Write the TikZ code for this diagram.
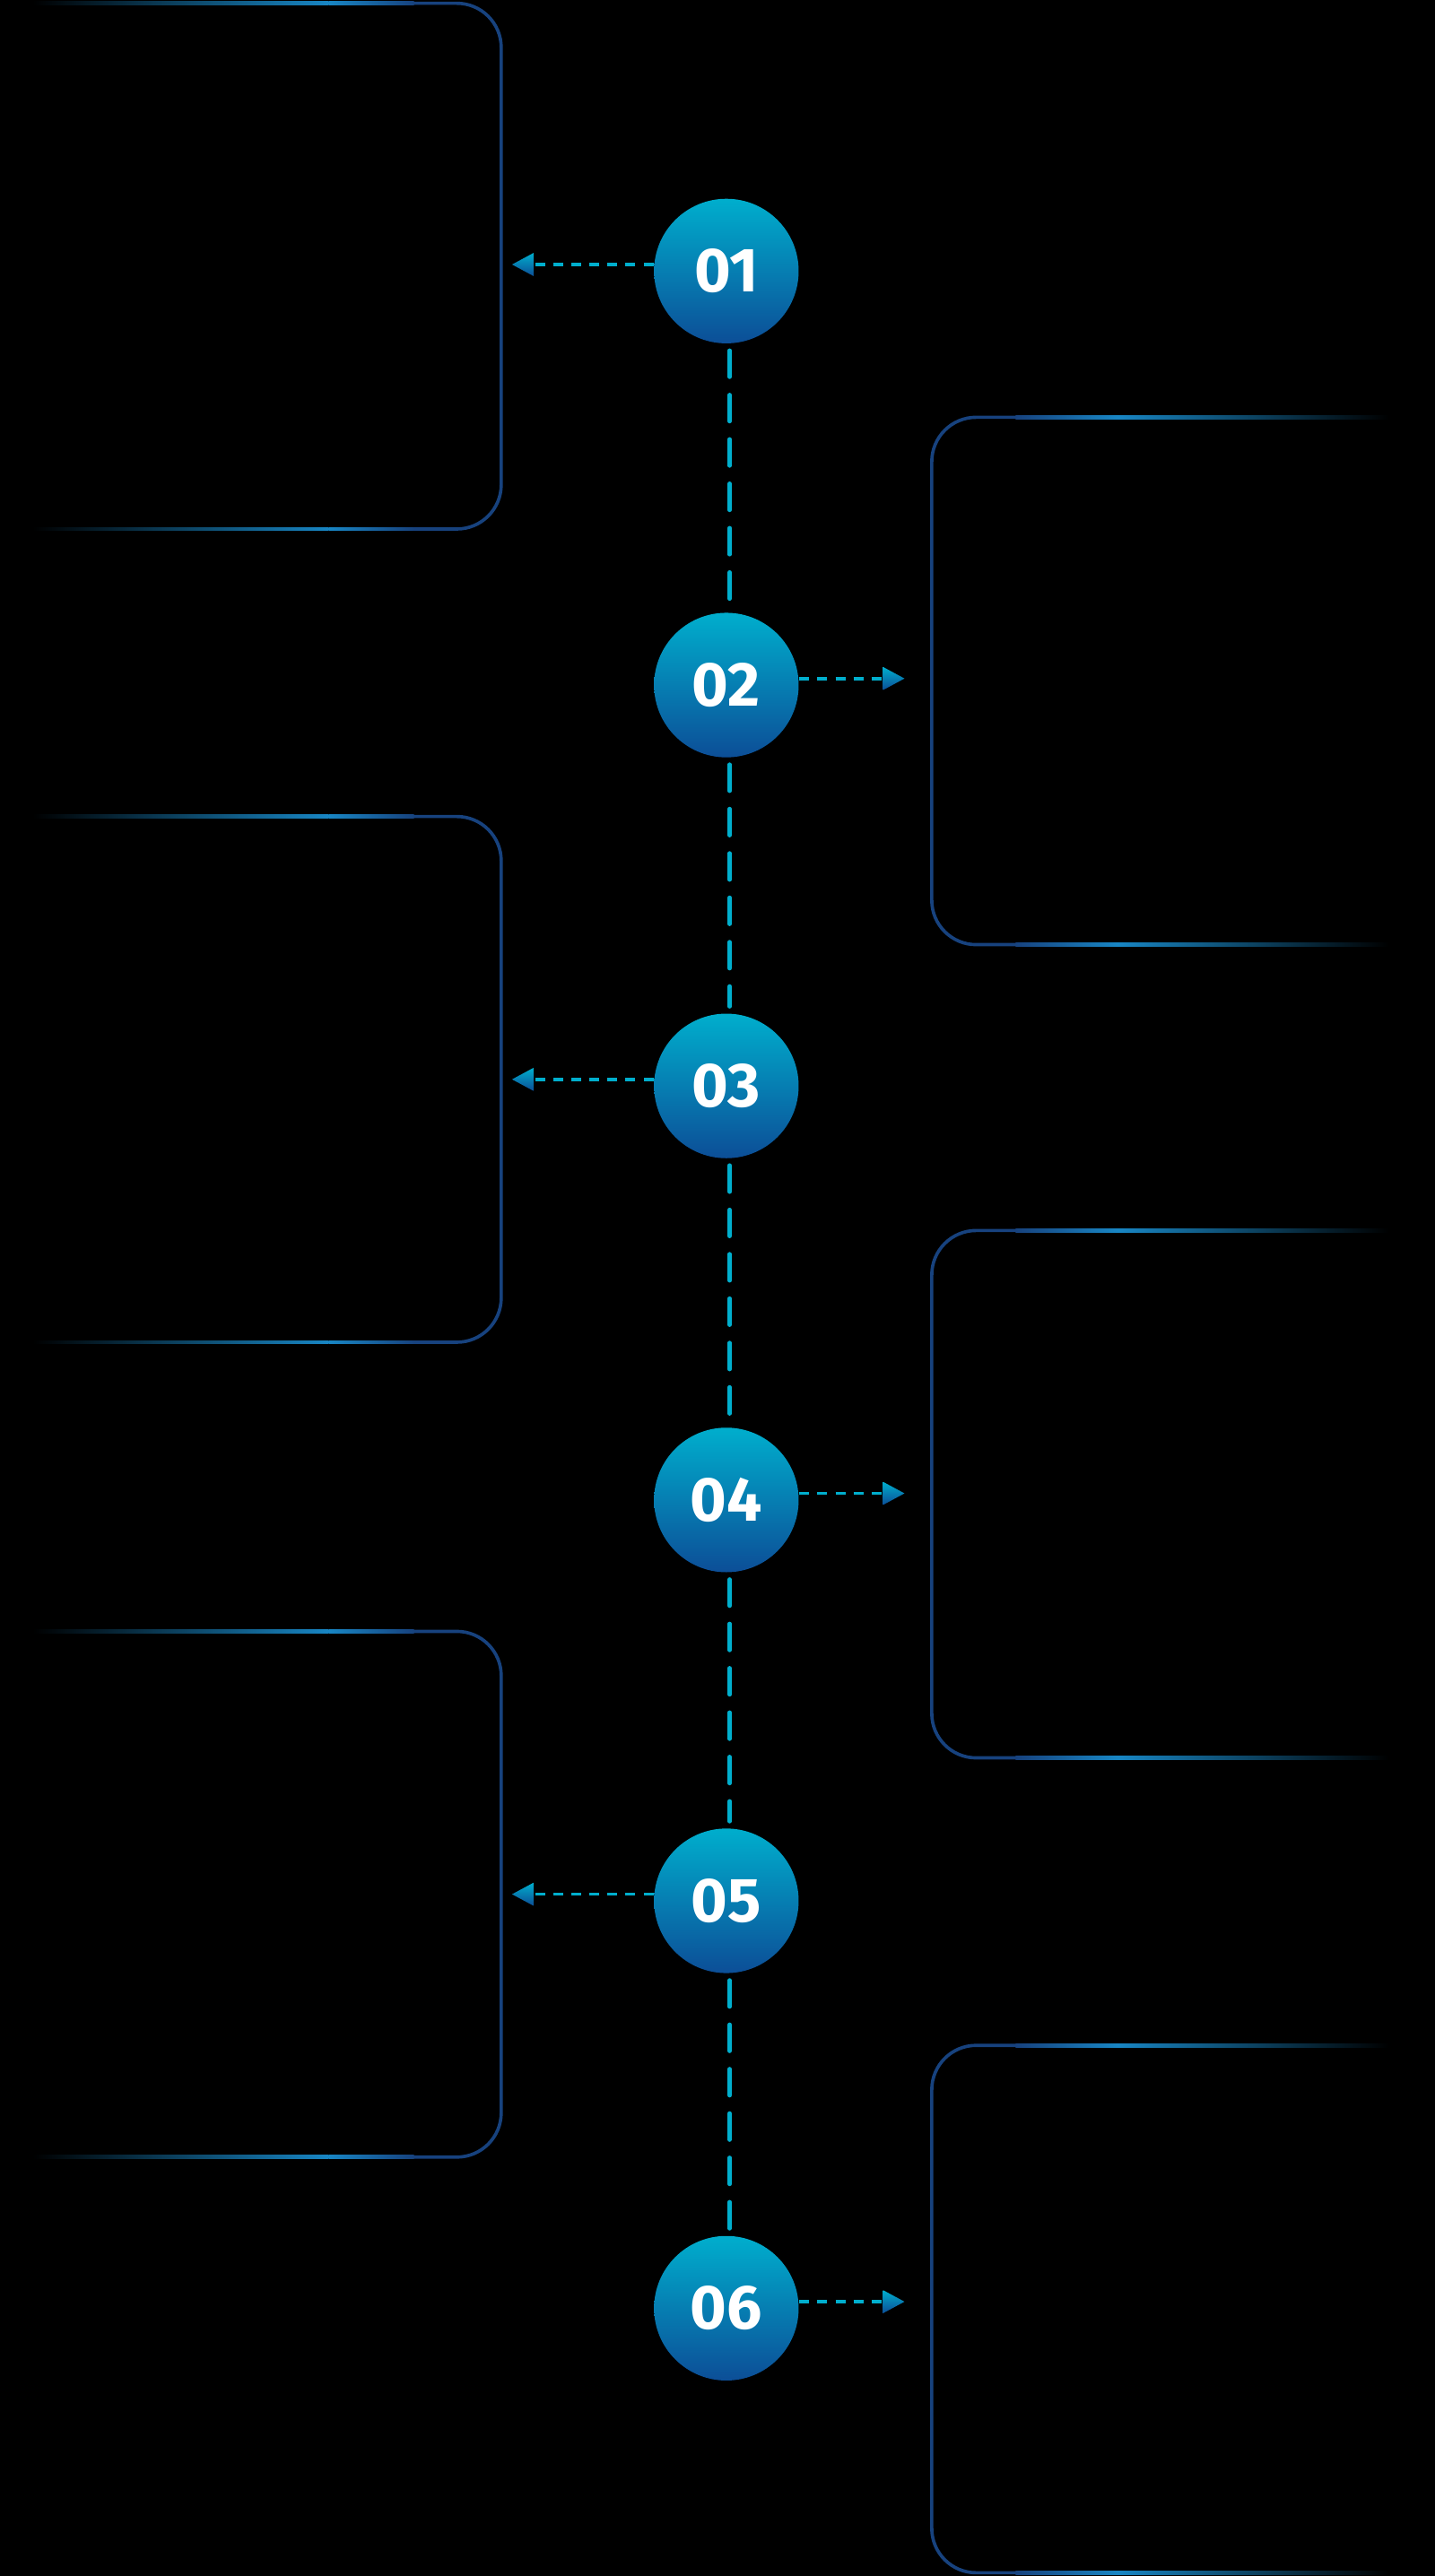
\documentclass[tikz,border=0pt]{standalone}
\usepackage{fontspec}
\setmainfont{Fira Sans}
\begin{document}
\definecolor{cy}{HTML}{00AECD}
\definecolor{bl}{HTML}{0C4E97}
\definecolor{br}{HTML}{1886C4}
\definecolor{dk}{HTML}{17427E}
\begin{tikzpicture}[x=0.5pt,y=-0.5pt,
  stepnode/.style={circle,minimum size=44pt,inner sep=0pt,top color=cy,bottom color=bl,text=white,font=\bfseries\fontsize{19}{19}\selectfont},
  vdash/.style={cy,line width=1.3pt,line cap=round,dash pattern=on 8pt off 5.5pt},
  hdash/.style={cy,line width=1pt,dash pattern=on 3pt off 2.5pt},
  edge/.style={dk,line width=1pt}]
\fill[black] (0,0) rectangle (873,1568);
\useasboundingbox (0,0) rectangle (873,1568);
% left boxes
\foreach \t in {2,497,993}{
  \pgfmathsetmacro\b{\t+320}
  \draw[edge] (250,\t) -- (278,\t) arc[start angle=90,end angle=0,radius=13.5pt] -- (305,\b-27) arc[start angle=0,end angle=-90,radius=13.5pt] -- (250,\b);
  \shade[left color=black,right color=br] (20,\t-1) rectangle (200,\t+1);
  \shade[left color=br,right color=dk] (200,\t-1) rectangle (252,\t+1);
  \shade[left color=black,right color=br] (20,\b-1) rectangle (200,\b+1);
  \shade[left color=br,right color=dk] (200,\b-1) rectangle (252,\b+1);
}
% right boxes
\foreach \t in {254,749,1245}{
  \pgfmathsetmacro\b{\t+321}
  \draw[edge] (620,\t) -- (594,\t) arc[start angle=90,end angle=180,radius=13.5pt] -- (567,\b-27) arc[start angle=180,end angle=270,radius=13.5pt] -- (620,\b);
  \shade[left color=dk,right color=br] (618,\t-1) rectangle (680,\t+1);
  \shade[left color=br,right color=black] (680,\t-1) rectangle (845,\t+1);
  \shade[left color=dk,right color=br] (618,\b-1) rectangle (680,\b+1);
  \shade[left color=br,right color=black] (680,\b-1) rectangle (845,\b+1);
}
% steps
\foreach \n/\y in {1/165,2/417,3/661,4/913,5/1157,6/1405}{
  \node[stepnode] (s\n) at (442,\y) {0\n};
}
\foreach \a/\b in {1/2,2/3,3/4,4/5,5/6}{
  \draw[vdash] ([yshift=-2pt]s\a.south -| 444,0) -- ([yshift=2pt]s\b.north -| 444,0);
}
% arrows
\foreach \n in {1,3,5}{
  \coordinate (t\n) at ([xshift=-43pt,yshift=2pt]s\n.west);
  \draw[hdash] ([yshift=2pt]s\n.west) -- ([xshift=6pt]t\n);
  \shade[top color=cy,bottom color=bl] (t\n) -- ++(13,-7) -- ++(0,14) -- cycle;
}
\foreach \n in {2,4,6}{
  \coordinate (t\n) at ([xshift=32pt,yshift=2pt]s\n.east);
  \draw[hdash] ([yshift=2pt]s\n.east) -- ([xshift=-6pt]t\n);
  \shade[top color=cy,bottom color=bl] (t\n) -- ++(-13,-7) -- ++(0,14) -- cycle;
}
\end{tikzpicture}
\end{document}
